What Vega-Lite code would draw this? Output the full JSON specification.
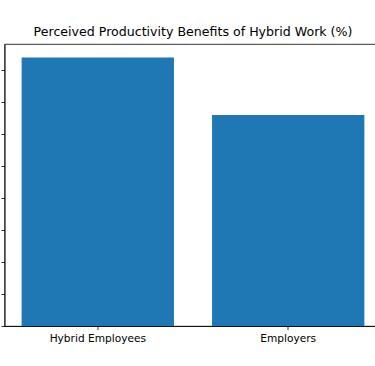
{
  "$schema": "https://vega.github.io/schema/vega-lite/v6.json",
  "autosize": "none",
  "width": 377,
  "height": 282,
  "padding": {"left": 4.5, "top": 44, "right": 0, "bottom": 40},
  "background": "white",
  "title": {
    "text": "Perceived Productivity Benefits of Hybrid Work (%)",
    "font": "DejaVu Sans",
    "fontSize": 12.6,
    "fontWeight": "normal",
    "color": "black",
    "anchor": "middle",
    "offset": 5
  },
  "config": {
    "view": {"stroke": "black", "strokeWidth": 0.8},
    "axis": {
      "domainColor": "black",
      "domainWidth": 0.8,
      "tickColor": "black",
      "tickWidth": 0.8,
      "tickSize": 3.5,
      "labelFont": "DejaVu Sans",
      "labelColor": "black",
      "grid": false
    }
  },
  "data": {
    "values": [
      {"group": "Hybrid Employees", "value": 84},
      {"group": "Employers", "value": 66}
    ]
  },
  "mark": {"type": "bar", "color": "#1f77b4"},
  "encoding": {
    "x": {
      "field": "group",
      "type": "nominal",
      "sort": null,
      "scale": {"paddingInner": 0.2, "paddingOuter": 0.09},
      "axis": {"title": null, "labelAngle": 0, "labelFontSize": 10.6, "labelPadding": 3.5}
    },
    "y": {
      "field": "value",
      "type": "quantitative",
      "scale": {"domain": [0, 88.2], "nice": false},
      "axis": {"title": null, "labels": false, "values": [0, 10, 20, 30, 40, 50, 60, 70, 80]}
    }
  }
}
